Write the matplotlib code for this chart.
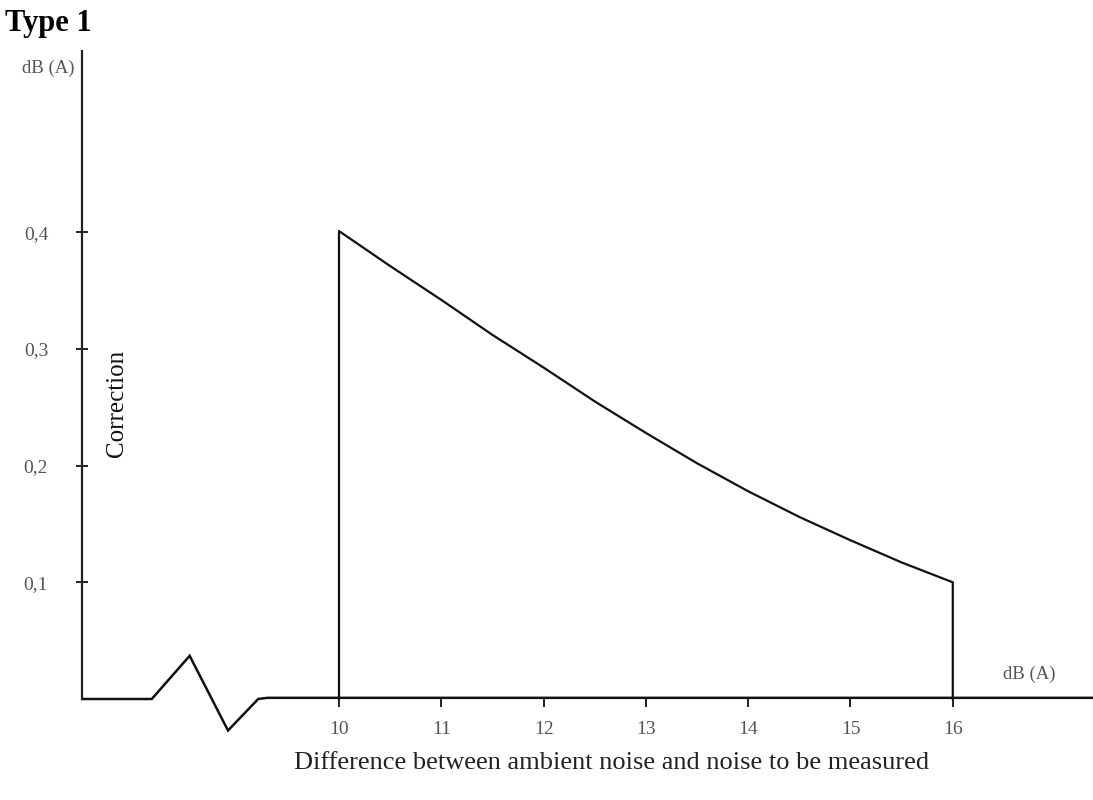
import numpy as np
import matplotlib.pyplot as plt

# values
diff_db = [10.0, 10.5, 11.0, 11.5, 12.0, 12.5, 13.0, 13.5, 14.0, 14.5, 15.0, 15.5, 16.0]
correction = [0.401, 0.371, 0.342, 0.312, 0.284, 0.255, 0.228, 0.202, 0.178, 0.156, 0.136, 0.117, 0.100]

x_ticks = [10, 11, 12, 13, 14, 15, 16]
y_ticks = [0.1, 0.2, 0.3, 0.4]
y_tick_labels = ["0,1", "0,2", "0,3", "0,4"]

# axis break (zigzag) on the x axis, before 10
break_x = [7.49, 8.17, 8.54, 8.915, 9.21, 9.3, 17.4]
break_y = [0.0, 0.0, 0.037, -0.027, 0.0, 0.001, 0.001]

W, H = 1093, 800
px_x = 102.3   # pixels per dB on x
px_y = 1167.0  # pixels per unit on y
x0_px, y0_px = 339, 699  # pixel position of (10, 0)

serif = ["Liberation Serif", "DejaVu Serif"]
grey = "#555555"

fig = plt.figure(figsize=(W / 100, H / 100), dpi=100)

ytop = 0.555
ax = fig.add_axes([0, (H - y0_px) / H, 1, ytop * px_y / H])
ax.set_xlim(10 - x0_px / px_x, 10 + (W - x0_px) / px_x)
ax.set_ylim(0, ytop)

for s in ["top", "right", "bottom"]:
    ax.spines[s].set_visible(False)
ax.spines["left"].set_position(("data", 7.49))
ax.spines["left"].set_linewidth(1.6)
ax.spines["left"].set_color("#222222")

ax.set_xticks(x_ticks)
ax.set_xticklabels([str(t) for t in x_ticks], family=serif, fontsize=14, color=grey)
ax.set_yticks(y_ticks)
ax.set_yticklabels(y_tick_labels, family=serif, fontsize=14, color=grey)
ax.tick_params(axis="x", direction="out", length=6, width=1.4, pad=10, color="#222222")
ax.tick_params(axis="y", direction="inout", length=9, width=1.4, pad=20, color="#222222")

# x axis with break symbol
ax.plot(break_x, break_y, color="#111111", lw=1.8, clip_on=False, solid_joinstyle="miter")

# correction curve with vertical edges at 10 and 16
cx = [diff_db[0]] + diff_db + [diff_db[-1]]
cy = [0.0] + correction + [0.0]
ax.plot(cx, cy, color="#111111", lw=1.6, clip_on=False)

ax.text(7.155, 0.540, "dB (A)", family=serif, fontsize=13.5, color=grey, ha="center", va="center")
ax.text(16.75, 0.021, "dB (A)", family=serif, fontsize=13.5, color=grey, ha="center", va="center")
ax.text(7.83, 0.253, "Correction", family=serif, fontsize=18, rotation=90,
        ha="center", va="center", color="#111111")

fig.text(612 / W, 1 - 763 / H, "Difference between ambient noise and noise to be measured",
         family=serif, fontsize=19, ha="center", va="center", color="#222222")
fig.text(5 / W, 1 - 23 / H, "Type 1", family=serif, fontsize=22, fontweight="bold",
         ha="left", va="center")

fig.savefig("out.png", dpi=100)
